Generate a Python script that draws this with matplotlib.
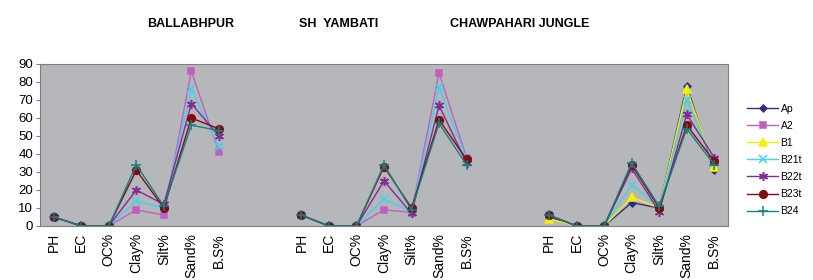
#!/usr/bin/env python3

import numpy as np
import matplotlib
matplotlib.use("Agg")
import matplotlib.pyplot as plt

plt.rcParams['font.family'] = ['Liberation Sans', 'DejaVu Sans']

# data: three sites, seven soil properties each, blank slots between sites
sites = ['BALLABHPUR', 'SH  YAMBATI', 'CHAWPAHARI JUNGLE']
props = ['PH', 'EC', 'OC%', 'Clay%', 'Silt%', 'Sand%', 'B.S%']
n = np.nan
gap = [n, n]

Ap   = [n] * 7 + gap + [n] * 7 + gap + [5, 0, 0, 13, 10, 78, 31]
A2   = [5, 0, 0, 9, 6, 86, 41] + gap + [6, 0, 0, 9, 7.5, 85, 38] + gap + [n] * 7
B1   = [n] * 7 + gap + [n] * 7 + gap + [4, 0, 0, 16, 10, 76, 33]
B21t = [5, 0, 0, 14, 10, 76, 44] + gap + [6, 0, 0, 15, 8, 77, 37] + gap + [6, 0, 0, 23, 10, 70, 35]
B22t = [5, 0, 0, 20, 12, 68, 50] + gap + [6, 0, 0, 25, 7, 67, 35] + gap + [6, 0, 0, 32, 8, 62, 38]
B23t = [5, 0, 0, 31, 10, 60, 54] + gap + [6, 0, 0, 33, 10, 59, 37] + gap + [6, 0, 0, 34, 10, 56, 36]
B24  = [5, 0, 0, 34, 11, 56, 53] + gap + [6, 0, 0, 34, 9, 57, 34] + gap + [6, 0, 0, 35, 11, 54, 34]

series = [
    ('Ap', Ap, '#2e2e86', 'D', 3.5),
    ('A2', A2, '#c15fc1', 's', 4.5),
    ('B1', B1, '#f2f200', '^', 5.5),
    ('B21t', B21t, '#45d0ea', 'x', 5.5),
    ('B22t', B22t, '#842a95', (6, 2, 0), 6.5),
    ('B23t', B23t, '#7f0e14', 'o', 5.5),
    ('B24', B24, '#178080', '+', 7.5),
]

cats = props + ['', ''] + props + ['', ''] + props
x = np.arange(len(cats))

fig = plt.figure(figsize=(8.13, 2.8), dpi=100)
ax = fig.add_axes([40 / 813, 1 - 226 / 280, 688 / 813, 162 / 280])
ax.set_facecolor('#b6b7bb')

for name, vals, col, mk, ms in series:
    ax.plot(x, vals, color=col, marker=mk, markersize=ms, lw=1.0,
            markeredgewidth=1.1, label=name)

ax.set_xlim(-0.5, len(cats) - 0.5)
ax.set_ylim(0, 90)
ax.set_yticks(range(0, 91, 10))
ticks = [i for i, c in enumerate(cats) if c]
ax.set_xticks(ticks)
ax.set_xticklabels([cats[i] for i in ticks], rotation=90, fontsize=10)
ax.tick_params(axis='x', length=0, pad=5)
ax.tick_params(axis='y', labelsize=9.5, length=3, color='#808080', pad=2)
for s in ['top', 'right', 'left', 'bottom']:
    ax.spines[s].set_color('#808080')

# site titles
for name, xc in zip(sites, [191, 339, 520]):
    fig.text(xc / 813, 1 - 24 / 280, name, ha='center', va='center',
             fontsize=9, fontweight='bold')

ax.legend(loc='center left', bbox_to_anchor=(743 / 813, 1 - 160 / 280),
          bbox_transform=fig.transFigure, frameon=False, fontsize=7.5,
          handlelength=3.0, labelspacing=0.68, handletextpad=0.2,
          borderaxespad=0)

fig.savefig('out.png', dpi=100)
